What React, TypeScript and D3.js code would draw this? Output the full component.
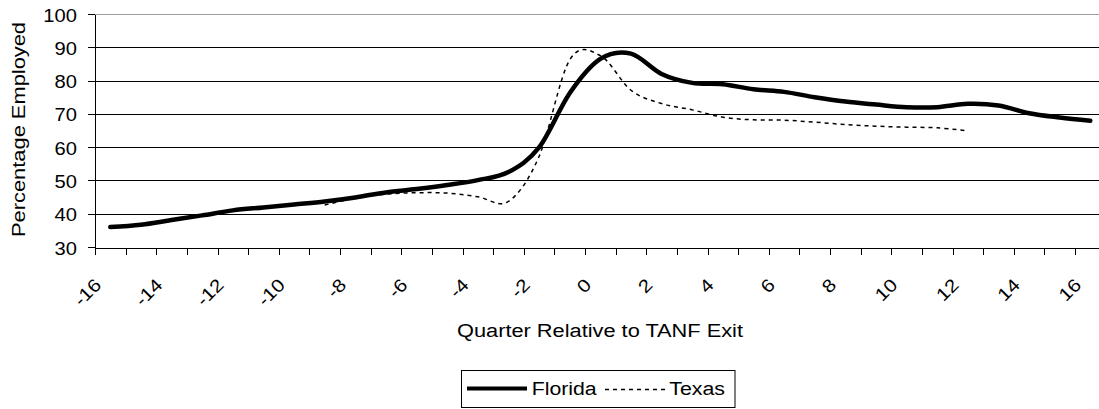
import React from "react";
import * as d3 from "d3";

const quarters = [-16, -15, -14, -13, -12, -11, -10, -9, -8, -7, -6, -5, -4, -3, -2, -1, 0, 1, 2, 3, 4, 5, 6, 7, 8, 9, 10, 11, 12, 13, 14, 15, 16];
const florida = [36.3, 37.0, 38.4, 39.8, 41.3, 42.2, 43.1, 44.0, 45.2, 46.7, 47.7, 48.9, 50.4, 52.8, 60.2, 76.5, 86.8, 88.4, 82.3, 79.6, 79.2, 77.7, 76.9, 75.3, 74.0, 73.1, 72.3, 72.3, 73.3, 72.8, 70.5, 69.2, 68.2];
const texas: (number | null)[] = [null, null, null, null, null, null, null, 42.9, 45.0, 46.2, 46.6, 46.5, 45.4, 44.0, 57.5, 86.5, 87.8, 77.4, 73.4, 71.5, 69.3, 68.5, 68.4, 67.8, 67.1, 66.6, 66.3, 66.1, 65.2, null, null, null, null];
const yTicks = [30, 40, 50, 60, 70, 80, 90, 100];
const xLabels = [-16, -14, -12, -10, -8, -6, -4, -2, 0, 2, 4, 6, 8, 10, 12, 14, 16];

const W = 1099;
const H = 409;
const FONT = "'Liberation Sans', Arial, sans-serif";

export default function App() {
  const left = 95;
  const bandW = 30.625;
  const right = left + quarters.length * bandW;
  const top = 15;
  const bottom = 248;

  const x = d3.scaleBand<number>().domain(quarters).range([left, right]).padding(0);
  const cx = (q: number) => (x(q) as number) + x.bandwidth() / 2;
  const y = d3.scaleLinear().domain([30, 100]).range([bottom, top]);
  const crisp = (v: number) => Math.round(v) + 0.5;

  const line = d3
    .line<{ q: number; v: number | null }>()
    .defined((d) => d.v != null)
    .x((d) => cx(d.q))
    .y((d) => y(d.v as number))
    .curve(d3.curveCatmullRom.alpha(0));

  const flData = quarters.map((q, i) => ({ q, v: florida[i] }));
  const txData = quarters.map((q, i) => ({ q, v: texas[i] }));

  const tickXs = d3.range(quarters.length + 1).map((i) => left + i * bandW).filter((v) => v <= W);

  return (
    <div style={{ position: "absolute", left: 0, top: 0 }}>
      <svg width={W} height={H} style={{ display: "block", background: "#fff" }} fontFamily={FONT}>
        {/* gridlines */}
        {yTicks.map((t) => (
          <line
            key={"g" + t}
            x1={left}
            x2={W}
            y1={crisp(y(t)) - 1}
            y2={crisp(y(t)) - 1}
            stroke={t === 100 ? "#a0a0a0" : t === 30 ? "none" : "#000"}
            strokeWidth={1}
          />
        ))}
        {/* y axis */}
        <line x1={left + 0.5} x2={left + 0.5} y1={top} y2={bottom} stroke="#000" />
        {yTicks.map((t) => (
          <line key={"yt" + t} x1={left - 7} x2={left} y1={crisp(y(t)) - 1} y2={crisp(y(t)) - 1} stroke="#000" />
        ))}
        {yTicks.map((t) => (
          <text
            key={"yl" + t}
            transform={`translate(77,${y(t) + 6.5}) scale(1.12,1)`}
            textAnchor="end"
            fontSize={18}
            fill="#000"
          >
            {t}
          </text>
        ))}
        {/* x axis */}
        <line x1={left} x2={W} y1={bottom + 0.5} y2={bottom + 0.5} stroke="#000" />
        {tickXs.map((tx, i) => (
          <line key={"xt" + i} x1={crisp(tx)} x2={crisp(tx)} y1={bottom} y2={bottom + 7} stroke="#000" />
        ))}
        {xLabels.map((q) => (
          <text
            key={"xl" + q}
            transform={`translate(${cx(q) - 8},286) rotate(-45) scale(1.15,1)`}
            textAnchor="end"
            fontSize={18}
            fill="#000"
          >
            {q}
          </text>
        ))}
        {/* series */}
        <path d={line(txData) || ""} fill="none" stroke="#000" strokeWidth={1.5} strokeDasharray="4,4" />
        <path d={line(flData) || ""} fill="none" stroke="#000" strokeWidth={4.5} strokeLinejoin="round" strokeLinecap="round" />
        {/* axis titles */}
        <text x={457} y={337} fontSize={18} textLength={286} lengthAdjust="spacingAndGlyphs" fill="#000">
          Quarter Relative to TANF Exit
        </text>
        <text
          transform={`translate(25,129.5) rotate(-90)`}
          textAnchor="middle"
          fontSize={18}
          textLength={215}
          lengthAdjust="spacingAndGlyphs"
          fill="#000"
        >
          Percentage Employed
        </text>
        {/* legend */}
        <rect x={461.5} y={370.5} width={273.5} height={37} fill="#fff" stroke="#000" strokeWidth={1} />
        <line x1={467} x2={527} y1={388.5} y2={388.5} stroke="#000" strokeWidth={4} />
        <text x={531.7} y={395} fontSize={18} textLength={65} lengthAdjust="spacingAndGlyphs" fill="#000">
          Florida
        </text>
        <line x1={605} x2={665} y1={389.5} y2={389.5} stroke="#000" strokeWidth={1.5} strokeDasharray="4,4" />
        <text x={669.3} y={395} fontSize={18} textLength={55.7} lengthAdjust="spacingAndGlyphs" fill="#000">
          Texas
        </text>
      </svg>
    </div>
  );
}
